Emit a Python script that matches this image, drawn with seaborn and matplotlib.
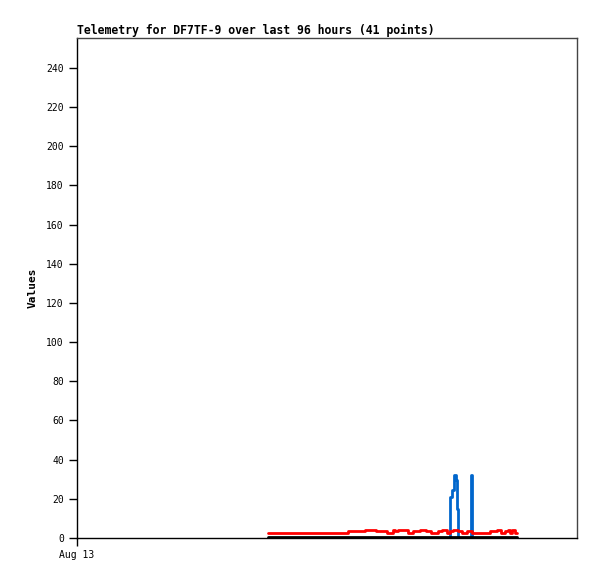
import numpy as np
import pandas as pd
import matplotlib
matplotlib.use("Agg")
import matplotlib.pyplot as plt
import seaborn as sns

# ─────────────────────────────────────────
# Data (hours since Aug 13 00:00)
# ─────────────────────────────────────────
red_hours = [36.7, 52.1, 55.2, 57.5, 59.5, 60.7, 61.1, 61.7, 63.6, 64.6,
             65.9, 67.1, 67.9, 69.4, 70.0, 71.0, 71.6, 72.2, 73.2, 73.9,
             74.8, 75.8, 79.3, 80.6, 81.5, 82.2, 82.8, 83.1, 83.5, 84.1, 84.5]
red_values = [2.7, 3.4, 3.9, 3.4, 2.7, 3.9, 3.4, 3.9, 2.7, 3.4,
              3.9, 3.4, 2.7, 3.4, 3.9, 2.7, 3.4, 3.9, 3.4, 2.7,
              3.4, 2.7, 3.4, 3.9, 2.7, 3.4, 3.9, 2.7, 3.9, 2.7, 2.7]

blue_hours = [36.7, 71.6, 71.7, 72.0, 72.3, 72.4, 72.7, 72.9, 73.1,
              75.6, 75.9, 84.5]
blue_values = [0, 15, 21, 24.5, 28.6, 32, 29.6, 15, 0,
               32, 0, 0]

black_hours = [36.7, 84.5]
black_values = [0.5, 0.5]

y_ticks = list(range(0, 241, 20))
x_tick_labels = ["Aug 13"]

# ─────────────────────────────────────────
# Plot
# ─────────────────────────────────────────
sns.set_style("white")
plt.rcParams['font.family'] = ['DejaVu Sans Mono']
plt.rcParams['text.color'] = 'black'
plt.rcParams['axes.labelcolor'] = 'black'
plt.rcParams['xtick.color'] = 'black'
plt.rcParams['ytick.color'] = 'black'

fig = plt.figure(figsize=(5.97, 5.79), dpi=100)
ax = fig.add_axes([77 / 597, 41 / 579, 500 / 597, 500 / 579])

red_df = pd.DataFrame({"h": red_hours, "v": red_values})
blue_df = pd.DataFrame({"h": blue_hours, "v": blue_values})
black_df = pd.DataFrame({"h": black_hours, "v": black_values})

sns.lineplot(data=blue_df, x="h", y="v", ax=ax, color="#0066cc",
             linewidth=2, drawstyle="steps-post", estimator=None, sort=False)
sns.lineplot(data=red_df, x="h", y="v", ax=ax, color="#ff0000",
             linewidth=2, drawstyle="steps-post", estimator=None, sort=False)
sns.lineplot(data=black_df, x="h", y="v", ax=ax, color="black",
             linewidth=2, estimator=None, sort=False)

ax.set_xlim(0, 96)
ax.set_ylim(0, 255.3)
ax.set_yticks(y_ticks)
ax.set_xticks([0])
ax.set_xticklabels(x_tick_labels)

ax.tick_params(axis="both", direction="out", length=6, width=1,
               labelsize=7, color="black", labelcolor="black",
               left=True, bottom=True)
ax.tick_params(axis="x", pad=3)

for side in ["left", "bottom"]:
    ax.spines[side].set_color("black")
    ax.spines[side].set_linewidth(1)
for side in ["top", "right"]:
    ax.spines[side].set_color("#444444")
    ax.spines[side].set_linewidth(1)

ax.set_xlabel("")
ax.set_ylabel("Values", fontsize=8, fontweight="bold", labelpad=6)
ax.set_title("Telemetry for DF7TF-9 over last 96 hours (41 points)",
             loc="left", fontsize=8.3, fontweight="bold", pad=3)

fig.savefig("out.png", dpi=100)
